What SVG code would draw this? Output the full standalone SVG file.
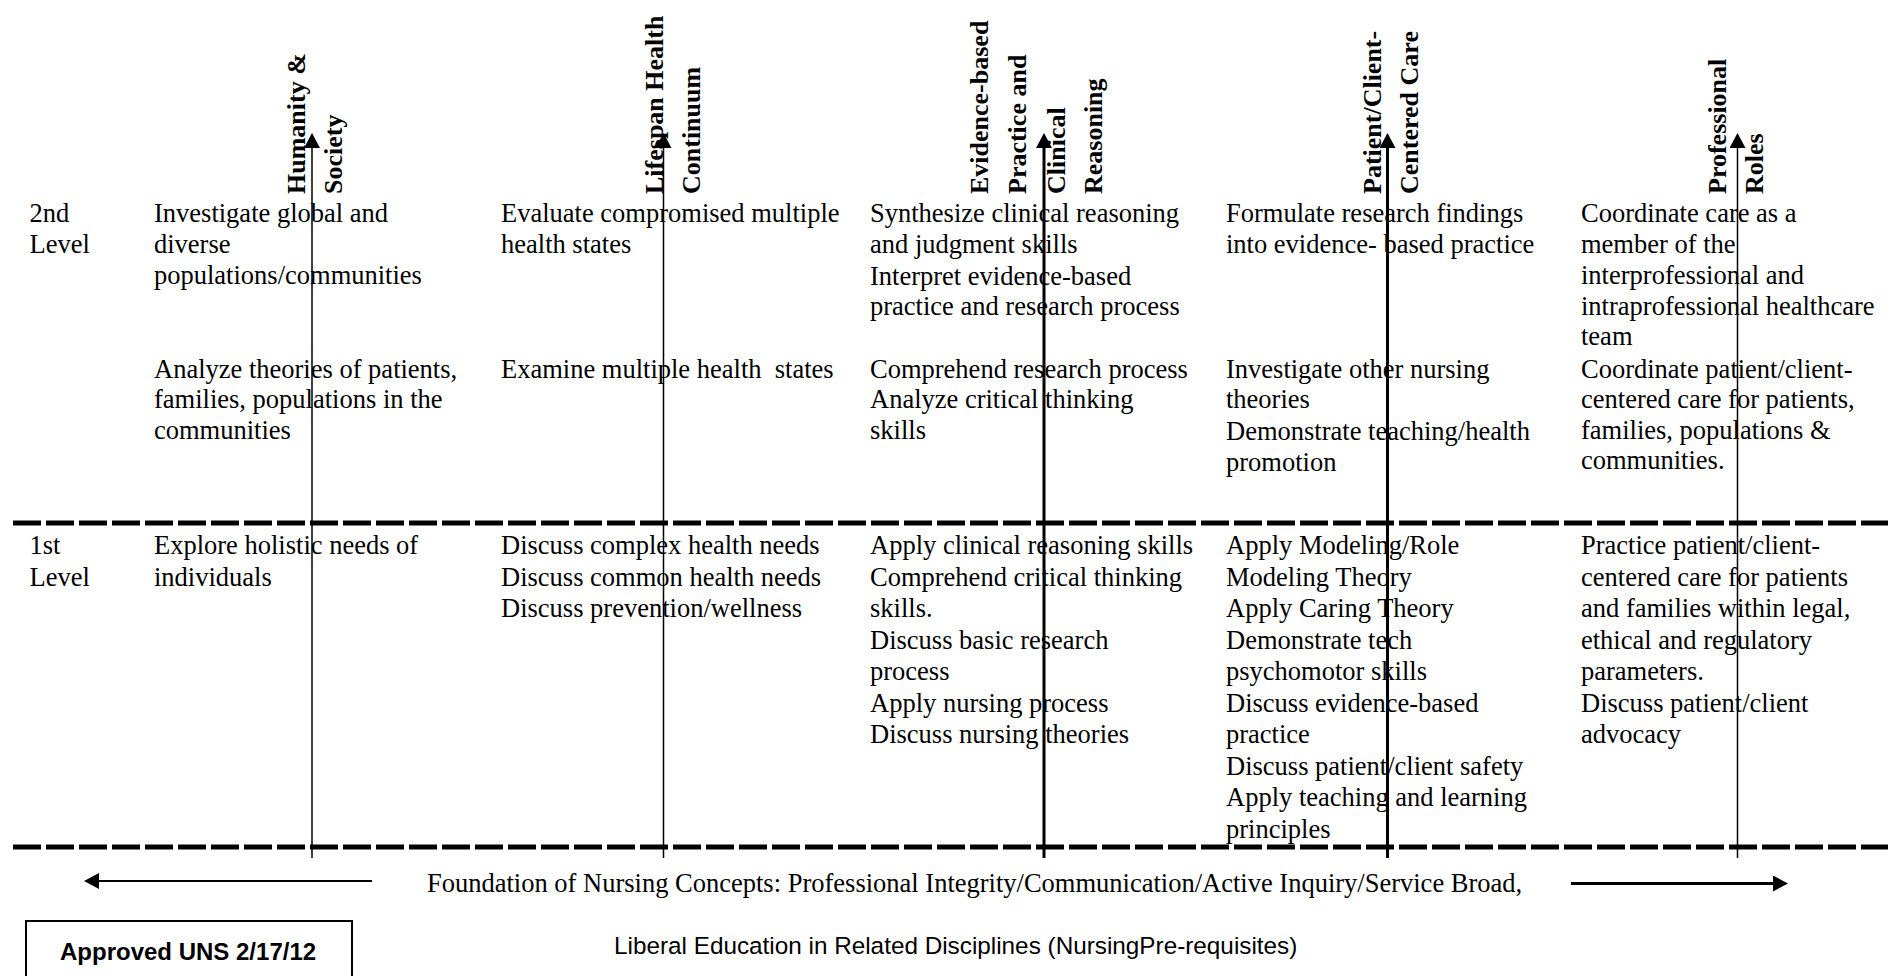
<svg xmlns="http://www.w3.org/2000/svg" width="1888" height="976" viewBox="0 0 1888 976">
<style>
.b{font-family:"Liberation Serif","Times New Roman",serif;font-size:26.5px;fill:#000}
.h{font-family:"Liberation Serif","Times New Roman",serif;font-size:26px;font-weight:bold;fill:#000}
.s{font-family:"Liberation Sans",Arial,sans-serif;fill:#000}
.dash{stroke:#000;stroke-width:5;stroke-dasharray:28 5;fill:none}
.ax{stroke:#000;fill:none}
</style>
<defs>
<marker id="ah" viewBox="0 0 15 16" refX="0" refY="8" markerWidth="15" markerHeight="16" markerUnits="userSpaceOnUse" orient="auto">
<path d="M0,0 L15,8 L0,16 z" fill="#000"/>
</marker>
</defs>
<rect x="0" y="0" width="1888" height="976" fill="#fff"/>

<g id="separators">
<line class="dash" x1="13" y1="523" x2="1888" y2="523"/>
<line class="dash" x1="13" y1="847" x2="1888" y2="847"/>
</g>

<g id="level-labels" class="b">
<text><tspan x="29.5" y="222">2nd</tspan><tspan x="29.5" y="252.6">Level</tspan></text>
<text><tspan x="29.5" y="554">1st</tspan><tspan x="29.5" y="585.5">Level</tspan></text>
</g>

<g id="humanity-society">
<text class="h" transform="translate(305,194) rotate(-90)">Humanity &amp;</text>
<text class="h" transform="translate(341.7,194) rotate(-90)">Society</text>
<text class="b"><tspan x="154" y="222">Investigate global and</tspan><tspan x="154" y="252.6">diverse</tspan><tspan x="154" y="283.5">populations/communities</tspan></text>
<text class="b"><tspan x="154" y="377.5">Analyze theories of patients,</tspan><tspan x="154" y="408.1">families, populations in the</tspan><tspan x="154" y="438.7">communities</tspan></text>
<text class="b"><tspan x="154" y="554">Explore holistic needs of</tspan><tspan x="154" y="585.5">individuals</tspan></text>
</g>

<g id="lifespan-health">
<text class="h" transform="translate(663.2,194) rotate(-90)">Lifespan Health</text>
<text class="h" transform="translate(700.2,194) rotate(-90)">Continuum</text>
<text class="b"><tspan x="501" y="222">Evaluate compromised multiple</tspan><tspan x="501" y="252.6">health states</tspan></text>
<text class="b"><tspan x="501" y="377.5">Examine multiple health&#160; states</tspan></text>
<text class="b"><tspan x="501" y="554">Discuss complex health needs</tspan><tspan x="501" y="585.5">Discuss common health needs</tspan><tspan x="501" y="617">Discuss prevention/wellness</tspan></text>
</g>

<g id="evidence-based">
<text class="h" transform="translate(987.8,194) rotate(-90)">Evidence-based</text>
<text class="h" transform="translate(1026.2,194) rotate(-90)">Practice and</text>
<text class="h" transform="translate(1065.2,194) rotate(-90)">Clinical</text>
<text class="h" transform="translate(1102.2,194) rotate(-90)">Reasoning</text>
<text class="b"><tspan x="870" y="222">Synthesize clinical reasoning</tspan><tspan x="870" y="252.6">and judgment skills</tspan><tspan x="870" y="284.5">Interpret evidence-based</tspan><tspan x="870" y="315">practice and research process</tspan></text>
<text class="b"><tspan x="870" y="377.5">Comprehend research process</tspan><tspan x="870" y="408.1">Analyze critical thinking</tspan><tspan x="870" y="438.7">skills</tspan></text>
<text class="b"><tspan x="870" y="554">Apply clinical reasoning skills</tspan><tspan x="870" y="585.5">Comprehend critical thinking</tspan><tspan x="870" y="617">skills.</tspan><tspan x="870" y="648.5">Discuss basic research</tspan><tspan x="870" y="680">process</tspan><tspan x="870" y="711.5">Apply nursing process</tspan><tspan x="870" y="743">Discuss nursing theories</tspan></text>
</g>

<g id="patient-client">
<text class="h" transform="translate(1381.2,194) rotate(-90)">Patient/Client-</text>
<text class="h" transform="translate(1418.2,194) rotate(-90)">Centered Care</text>
<text class="b"><tspan x="1226" y="222">Formulate research findings</tspan><tspan x="1226" y="252.6">into evidence- based practice</tspan></text>
<text class="b"><tspan x="1226" y="377.5">Investigate other nursing</tspan><tspan x="1226" y="408.1">theories</tspan><tspan x="1226" y="440">Demonstrate teaching/health</tspan><tspan x="1226" y="470.6">promotion</tspan></text>
<text class="b"><tspan x="1226" y="554">Apply Modeling/Role</tspan><tspan x="1226" y="585.5">Modeling Theory</tspan><tspan x="1226" y="617">Apply Caring Theory</tspan><tspan x="1226" y="648.5">Demonstrate tech</tspan><tspan x="1226" y="680">psychomotor skills</tspan><tspan x="1226" y="711.5">Discuss evidence-based</tspan><tspan x="1226" y="743">practice</tspan><tspan x="1226" y="774.5">Discuss patient/client safety</tspan><tspan x="1226" y="806">Apply teaching and learning</tspan><tspan x="1226" y="837.5">principles</tspan></text>
</g>

<g id="professional-roles">
<text class="h" transform="translate(1726.2,194) rotate(-90)">Professional</text>
<text class="h" transform="translate(1763.2,194) rotate(-90)">Roles</text>
<text class="b"><tspan x="1581" y="222">Coordinate care as a</tspan><tspan x="1581" y="252.6">member of the</tspan><tspan x="1581" y="283.5">interprofessional and</tspan><tspan x="1581" y="314.5">intraprofessional healthcare</tspan><tspan x="1581" y="344.7">team</tspan></text>
<text class="b"><tspan x="1581" y="377.5">Coordinate patient/client-</tspan><tspan x="1581" y="408.1">centered care for patients,</tspan><tspan x="1581" y="438.7">families, populations &amp;</tspan><tspan x="1581" y="469.3">communities.</tspan></text>
<text class="b"><tspan x="1581" y="554">Practice patient/client-</tspan><tspan x="1581" y="585.5">centered care for patients</tspan><tspan x="1581" y="617">and families within legal,</tspan><tspan x="1581" y="648.5">ethical and regulatory</tspan><tspan x="1581" y="680">parameters.</tspan><tspan x="1581" y="711.5">Discuss patient/client</tspan><tspan x="1581" y="743">advocacy</tspan></text>
</g>

<g id="connectors">
<line class="ax" stroke-width="1.5" x1="312" y1="858" x2="312" y2="148" marker-end="url(#ah)"/>
<line class="ax" stroke-width="1.5" x1="663.5" y1="858" x2="663.5" y2="148" marker-end="url(#ah)"/>
<line class="ax" stroke-width="3" x1="1044" y1="858" x2="1044" y2="148" marker-end="url(#ah)"/>
<line class="ax" stroke-width="3" x1="1387.5" y1="858" x2="1387.5" y2="148" marker-end="url(#ah)"/>
<line class="ax" stroke-width="1.5" x1="1737.5" y1="858" x2="1737.5" y2="148" marker-end="url(#ah)"/>
<line class="ax" stroke-width="2" x1="372" y1="881" x2="99" y2="881" marker-end="url(#ah)"/>
<line class="ax" stroke-width="3" x1="1571" y1="883.5" x2="1773" y2="883.5" marker-end="url(#ah)"/>
</g>

<g id="foundation">
<text class="b" x="427" y="891.5">Foundation of Nursing Concepts: Professional Integrity/Communication/Active Inquiry/Service Broad,</text>
<text class="s" x="614" y="953.5" font-size="24.3">Liberal Education in Related Disciplines (NursingPre-requisites)</text>
</g>

<g id="approved">
<rect x="26" y="921" width="326" height="56" fill="none" stroke="#000" stroke-width="2"/>
<text class="s" x="60" y="960" font-size="24" font-weight="bold">Approved UNS 2/17/12</text>
</g>
</svg>
